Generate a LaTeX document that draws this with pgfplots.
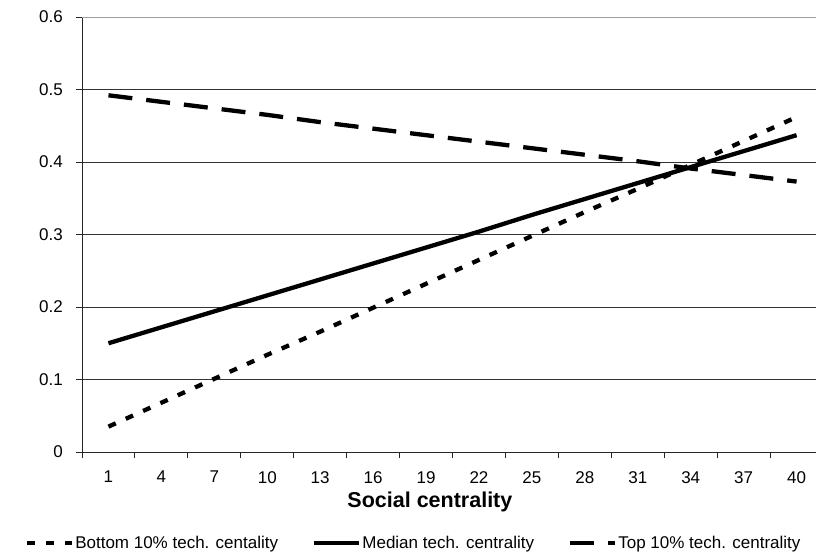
\documentclass[border=0pt]{standalone}
\usepackage{pgfplots}
\pgfplotsset{compat=1.18}
\usepackage{fontspec}
\setmainfont{Liberation Sans}
\newcommand{\chartfont}{\fontsize{17}{20}\selectfont}
\begin{document}
\begin{tikzpicture}
\useasboundingbox (0,0) rectangle (817pt,552pt);
\begin{axis}[
  at={(82pt,100pt)}, anchor=south west,
  scale only axis, width=734pt, height=435pt,
  xmin=-0.5, xmax=41.1, ymin=0, ymax=0.6,
  enlargelimits=false,
  axis x line*=bottom, axis y line*=left,
  axis line style={-, black!85, line width=1pt},
  tick align=outside,
  major tick length=6pt,
  tick style={black!85, line width=1pt},
  xtick={-0.5,2.5,...,38.5},
  xticklabels={},
  extra x ticks={1,4,7,10,13,16,19,22,25,28,31,34,37,40},
  extra x tick labels={1,4,7,10,13,16,19,22,25,28,31,34,37,40},
  extra x tick style={major tick length=0pt},
  xticklabel style={font=\chartfont, inner sep=0pt, anchor=north, yshift=-19pt},
  ytick={0,0.1,0.2,0.3,0.4,0.5},
  yticklabels={0,0.1,0.2,0.3,0.4,0.5},
  extra y ticks={0.6},
  extra y tick labels={0.6},
  extra y tick style={grid style={gray!75, line width=1pt}},
  yticklabel style={font=\chartfont, inner sep=0pt, anchor=east, xshift=-13pt},
  ymajorgrids,
  grid style={black!80, line width=0.8pt},
  xlabel={\textbf{Social centrality}},
  xlabel style={font=\fontsize{21.5}{24}\selectfont, at={(axis description cs:0.474,0)}, anchor=north, inner sep=0pt, yshift=-40pt},
  legend columns=3,
  legend style={draw=none, fill=none, font=\chartfont, inner sep=0pt, outer sep=0pt,
    at={(axis description cs:-0.0777,-0.209)}, anchor=west,
    nodes={inner sep=1pt},
    /tikz/every even column/.append style={column sep=33pt}},
  legend image code/.code={\draw[#1] (0pt,0pt) -- (45pt,0pt);},
]
\addplot[black, line width=4.3pt, dash pattern=on 8pt off 11pt] coordinates {
(1,0.035) (4,0.068) (7,0.101) (10,0.134) (13,0.166) (16,0.199) (19,0.232)
(22,0.265) (25,0.298) (28,0.331) (31,0.363) (34,0.396) (37,0.429) (40,0.462)};
\addlegendentry{Bottom 10\% tech. centality}
\addplot[black, line width=4.3pt] coordinates {
(1,0.150) (4,0.172) (7,0.194) (10,0.216) (13,0.238) (16,0.260) (19,0.282)
(22,0.304) (25,0.327) (28,0.349) (31,0.371) (34,0.393) (37,0.415) (40,0.437)};
\addlegendentry{Median tech. centrality}
\addplot[black, line width=4.3pt, dash pattern=on 24pt off 14pt] coordinates {
(1,0.492) (4,0.483) (7,0.474) (10,0.465) (13,0.455) (16,0.446) (19,0.437)
(22,0.428) (25,0.419) (28,0.410) (31,0.401) (34,0.391) (37,0.382) (40,0.373)};
\addlegendentry{Top 10\% tech. centrality}
\end{axis}
\end{tikzpicture}
\end{document}
